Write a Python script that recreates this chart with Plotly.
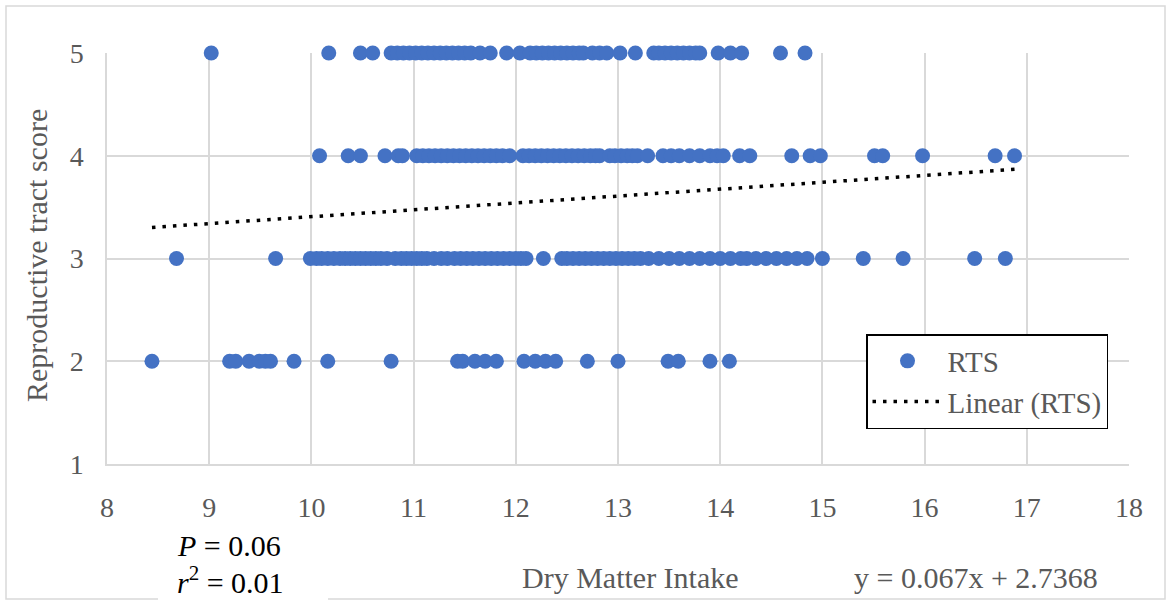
import plotly.graph_objects as go

# ---- data ----
rts5_x = [9.02, 10.17, 10.48, 10.60, 10.78, 10.84, 10.90, 10.96, 11.02, 11.08, 11.14, 11.20, 11.26,
          11.32, 11.38, 11.44, 11.50, 11.56, 11.65, 11.75, 11.91, 12.04, 12.14, 12.20, 12.26, 12.32,
          12.38, 12.44, 12.50, 12.56, 12.62, 12.66, 12.75, 12.82, 12.89, 13.02, 13.17, 13.35, 13.40,
          13.46, 13.52, 13.58, 13.64, 13.70, 13.76, 13.80, 13.98, 14.10, 14.21, 14.59, 14.83]
rts4_x = [10.08, 10.36, 10.48, 10.72, 10.85, 10.89, 11.03, 11.09, 11.15, 11.21, 11.27, 11.33, 11.39,
          11.45, 11.51, 11.57, 11.63, 11.69, 11.75, 11.81, 11.87, 11.94, 12.07, 12.13, 12.19, 12.25,
          12.31, 12.37, 12.43, 12.49, 12.55, 12.61, 12.67, 12.73, 12.78, 12.82, 12.92, 12.97, 13.03,
          13.09, 13.14, 13.19, 13.29, 13.44, 13.52, 13.60, 13.70, 13.80, 13.90, 13.97, 14.03, 14.19,
          14.29, 14.70, 14.88, 14.98, 15.51, 15.59, 15.98, 16.69, 16.88]
rts3_x = [8.68, 9.65, 9.99, 10.05, 10.10, 10.16, 10.22, 10.28, 10.33, 10.38, 10.43, 10.48, 10.53,
          10.58, 10.63, 10.68, 10.74, 10.82, 10.88, 10.93, 10.98, 11.03, 11.08, 11.13, 11.20, 11.27,
          11.33, 11.40, 11.46, 11.52, 11.58, 11.64, 11.70, 11.76, 11.82, 11.88, 11.94, 12.00, 12.05,
          12.10, 12.27, 12.45, 12.50, 12.56, 12.62, 12.68, 12.74, 12.80, 12.86, 12.92, 12.98, 13.04,
          13.10, 13.16, 13.22, 13.30, 13.40, 13.50, 13.60, 13.70, 13.80, 13.90, 14.00, 14.10, 14.20,
          14.26, 14.35, 14.45, 14.55, 14.65, 14.75, 14.85, 15.00, 15.40, 15.79, 16.49, 16.79]
rts2_x = [8.44, 9.20, 9.26, 9.39, 9.49, 9.55, 9.60, 9.83, 10.16, 10.78, 11.43, 11.48, 11.60, 11.70,
          11.81, 12.08, 12.19, 12.29, 12.39, 12.70, 13.00, 13.49, 13.59, 13.90, 14.09]
scores = [5, 4, 3, 2]

slope = 0.067
intercept = 2.7368
x_ticks = [8, 9, 10, 11, 12, 13, 14, 15, 16, 17, 18]
y_ticks = [1, 2, 3, 4, 5]

# ---- build ----
xs, ys = [], []
for row, s in zip([rts5_x, rts4_x, rts3_x, rts2_x], scores):
    xs += row
    ys += [s] * len(row)

tx = [min(xs), max(xs)]
ty = [slope * v + intercept for v in tx]

FONT = "Liberation Serif"
GRAY = "#595959"

fig = go.Figure()
fig.add_trace(go.Scatter(x=xs, y=ys, mode="markers", name="RTS", cliponaxis=False,
                         marker=dict(color="#4472C4", size=15)))
fig.add_trace(go.Scatter(x=tx, y=ty, mode="lines", name="Linear (RTS)",
                         line=dict(color="black", width=3.5, dash="3.5px,7px")))

L, T, W, H = 107, 53, 1022, 411


def px(x):
    return (x - L) / W


def py(y):
    return (T + H - y) / H


fig.update_layout(
    width=1172, height=604,
    margin=dict(l=L, r=1172 - L - W, t=T, b=604 - T - H),
    plot_bgcolor="white", paper_bgcolor="white",
    font=dict(family=FONT, color=GRAY, size=28),
    xaxis=dict(range=[8, 18], tickvals=x_ticks, showgrid=True, gridcolor="#d9d9d9", gridwidth=1.5,
               showline=True, linecolor="#d9d9d9", linewidth=1.5, zeroline=False,
               ticks="", ticklabelstandoff=18, tickfont=dict(size=28, color=GRAY, family=FONT)),
    yaxis=dict(range=[1, 5], tickvals=y_ticks, showgrid=True, gridcolor="#d9d9d9", gridwidth=1.5,
               showline=True, linecolor="#d9d9d9", linewidth=1.5, zeroline=False,
               ticks="", ticklabelstandoff=16, tickfont=dict(size=28, color=GRAY, family=FONT)),
    showlegend=True,
    legend=dict(x=px(866), y=py(334), xanchor="left", yanchor="top",
                bordercolor="black", borderwidth=1.5, bgcolor="white",
                font=dict(size=29, color=GRAY, family=FONT), itemwidth=70,
                tracegroupgap=0),
    shapes=[
        dict(type="rect", xref="paper", yref="paper", x0=px(6), x1=px(1165), y0=py(599), y1=py(6),
             line=dict(color="#d9d9d9", width=1.5), fillcolor="rgba(0,0,0,0)", layer="below"),
        dict(type="rect", xref="paper", yref="paper", x0=px(158), x1=px(328), y0=py(604), y1=py(522),
             line=dict(width=0), fillcolor="white", layer="below"),
    ],
    annotations=[
        dict(text="Reproductive tract score", xref="paper", yref="paper", x=px(37), y=py(256),
             textangle=-90, showarrow=False, font=dict(size=30, color=GRAY, family=FONT),
             xanchor="center", yanchor="middle"),
        dict(text="Dry Matter Intake", xref="paper", yref="paper", x=px(630), y=py(577),
             showarrow=False, font=dict(size=30, color=GRAY, family=FONT),
             xanchor="center", yanchor="middle"),
        dict(text="y = 0.067x + 2.7368", xref="paper", yref="paper", x=px(976), y=py(577),
             showarrow=False, font=dict(size=30, color=GRAY, family=FONT),
             xanchor="center", yanchor="middle"),
        dict(text="<i>P</i> = 0.06", xref="paper", yref="paper", x=px(175), y=py(545),
             showarrow=False, font=dict(size=30, color="black", family=FONT),
             xanchor="left", yanchor="middle"),
        dict(text="<i>r</i><sup>2</sup> = 0.01", xref="paper", yref="paper",
             x=px(175), y=py(580),
             showarrow=False, font=dict(size=30, color="black", family=FONT),
             xanchor="left", yanchor="middle"),
    ],
)

fig.write_html("out.html")
